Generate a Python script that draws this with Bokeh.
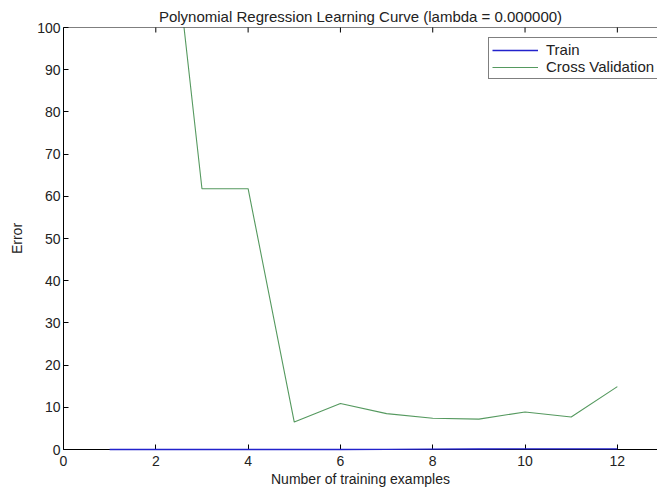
import math
from bokeh.plotting import figure
from bokeh.models import LinearAxis, FixedTicker, Legend, LegendItem, Range1d, Span
from bokeh.embed import file_html
from bokeh.resources import INLINE

# learning-curve data (polynomial regression, lambda = 0)
n_examples = [1, 2, 3, 4, 5, 6, 7, 8, 9, 10, 11, 12]
train_error = [0.0, 0.0, 0.0, 0.0, 0.0, 0.0, 0.02, 0.07, 0.12, 0.13, 0.15, 0.16]
cv_error = [160.7, 160.1, 61.8, 61.8, 6.5, 10.9, 8.5, 7.4, 7.2, 8.9, 7.7, 14.9]

x_ticks = [0, 2, 4, 6, 8, 10, 12]
y_ticks = [0, 10, 20, 30, 40, 50, 60, 70, 80, 90, 100]

FONT = "Liberation Sans"
TXT = "#222222"

p = figure(width=657, height=491, output_backend="svg", toolbar_location=None,
           x_range=Range1d(0, 12.87), y_range=Range1d(y_ticks[0], y_ticks[-1]),
           x_axis_location=None, y_axis_location=None,
           min_border_left=63, min_border_right=0,
           min_border_top=27, min_border_bottom=42)
p.outline_line_color = None
p.xgrid.visible = False
p.ygrid.visible = False
p.background_fill_color = "white"
p.border_fill_color = "white"

p.title.text = "Polynomial Regression Learning Curve (lambda = 0.000000)"
p.title.text_font = FONT
p.title.text_font_size = "15px"
p.title.text_font_style = "normal"
p.title.text_color = TXT
p.title.align = "center"
p.title.standoff = 6


def style_axis(ax):
    ax.axis_line_color = "black"
    ax.axis_line_width = 1
    ax.major_tick_in = 5
    ax.major_tick_out = 0
    ax.major_tick_line_color = "black"
    ax.minor_tick_line_color = None
    ax.major_label_text_font = FONT
    ax.major_label_text_color = TXT
    ax.major_label_text_font_size = "14px"
    ax.axis_label_text_font = FONT
    ax.axis_label_text_font_style = "normal"
    ax.axis_label_text_color = TXT
    ax.axis_label_text_font_size = "14px"


bottom = LinearAxis(ticker=FixedTicker(ticks=x_ticks), axis_label="Number of training examples")
style_axis(bottom)
bottom.major_label_standoff = 6
bottom.axis_label_standoff = 2
p.add_layout(bottom, "below")

left = LinearAxis(ticker=FixedTicker(ticks=y_ticks), axis_label="Error")
style_axis(left)
left.major_label_standoff = 3
left.axis_label_standoff = 9
p.add_layout(left, "left")

# top box edge with inward ticks at the x tick positions
p.add_layout(Span(location=y_ticks[-1], dimension="width", line_color="black", line_width=1))
p.scatter(x_ticks, [y_ticks[-1]] * len(x_ticks), marker="dash", angle=math.pi / 2,
          size=10, line_color="black", line_width=1)

r_train = p.line(n_examples, train_error, line_color="#2222cc", line_width=1.3, level="overlay")
r_cv = p.line(n_examples, cv_error, line_color="#55995f", line_width=1.1)

legend = Legend(items=[LegendItem(label="Train", renderers=[r_train]),
                       LegendItem(label="Cross Validation", renderers=[r_cv])],
                location=(425, 370))
legend.border_line_color = "black"
legend.border_line_width = 1
legend.background_fill_color = "white"
legend.background_fill_alpha = 1
legend.label_text_font = FONT
legend.label_text_font_size = "15px"
legend.label_text_color = TXT
legend.padding = 3
legend.spacing = 0
legend.margin = 0
legend.glyph_width = 46
legend.glyph_height = 16
legend.label_height = 16
legend.label_standoff = 8
p.add_layout(legend, "center")

open("out.html", "w").write(file_html(p, INLINE))
